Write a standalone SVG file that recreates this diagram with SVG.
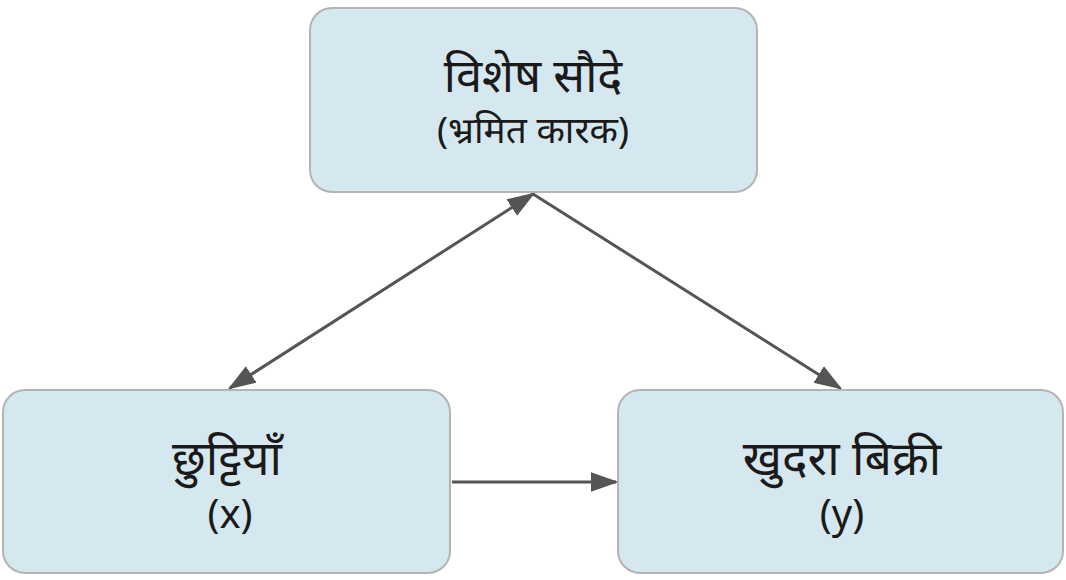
<svg xmlns="http://www.w3.org/2000/svg" width="1066" height="580" viewBox="0 0 1066 580">
<style>
.box{fill:#d5e7ef;stroke:#b4b4b4;stroke-width:2}
.t{font-family:"Noto Sans","Liberation Sans",sans-serif;fill:#1a1a1a;text-anchor:middle}
.c{stroke:#555;stroke-width:3;fill:none}
</style>
<defs>
<marker id="b" viewBox="0 0 10 10" refX="9" refY="5" markerWidth="28" markerHeight="28" markerUnits="userSpaceOnUse" orient="auto-start-reverse"><path d="M0,1.5L10,5L0,8.5z" fill="#555"/></marker>
</defs>
<rect width="1066" height="580" fill="#fff"/>
<g id="connectors">
<line class="c" x1="533" y1="194" x2="230" y2="388" marker-start="url(#b)" marker-end="url(#b)"/>
<line class="c" x1="533" y1="194" x2="840" y2="388" marker-end="url(#b)"/>
<line class="c" x1="452" y1="482" x2="616" y2="482" marker-end="url(#b)"/>
</g>
<g id="n1"><rect class="box" x="310" y="8" width="447" height="184" rx="22"/>
<text class="t" x="533" y="92" font-size="47">विशेष सौदे</text>
<text class="t" x="533" y="143" font-size="37">(भ्रमित कारक)</text></g>
<g id="n2"><rect class="box" x="3" y="390" width="447" height="183" rx="22"/>
<text class="t" x="227" y="475" font-size="48">छुट्टियाँ</text>
<text class="t" x="230" y="528" font-size="40">(x)</text></g>
<g id="n3"><rect class="box" x="618" y="390" width="445" height="183" rx="22"/>
<text class="t" x="842" y="475" font-size="48">खुदरा बिक्री</text>
<text class="t" x="842" y="528" font-size="40">(y)</text></g>
</svg>
